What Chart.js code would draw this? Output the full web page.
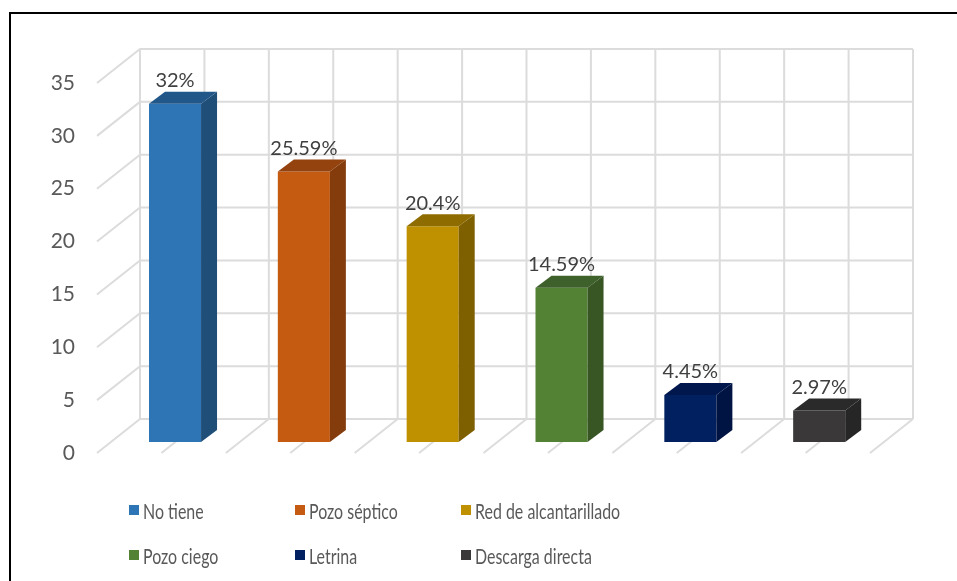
<!DOCTYPE html>
<html>
<head>
<meta charset="utf-8">
<script src="https://cdn.jsdelivr.net/npm/chart.js@4.4.1/dist/chart.umd.min.js"></script>
<style>
body{margin:0;background:#fff}
#wrap{position:relative;width:957px;height:581px;overflow:hidden;font-family:Lato,"DejaVu Sans Condensed",sans-serif}
#frame{position:absolute;left:9px;top:12px;width:1000px;height:1000px;border:2px solid #000;box-sizing:border-box}
#c{position:absolute;left:0;top:0}
.lg{position:absolute;display:flex;align-items:center;font-size:21px;color:#595959;white-space:nowrap;height:24px}
.lg i{display:inline-block;width:10px;height:10px;margin-right:4px}
.lg span{display:inline-block;transform:scaleX(0.76);transform-origin:left center}
</style>
</head>
<body>
<div id="wrap">
  <div id="frame"></div>
  <canvas id="c" width="957" height="581"></canvas>
  <div id="legend"></div>
</div>
<script>
// datos
const categories=["No tiene","Pozo séptico","Red de alcantarillado","Pozo ciego","Letrina","Descarga directa"];
const values=[32,25.59,20.4,14.59,4.45,2.97];
const yTicks=[0,5,10,15,20,25,30,35];
const frontColors=["#2E75B6","#C55A11","#BF9000","#548235","#002060","#3A3838"];
const sideColors=["#1F4E79","#843C0C","#7F6000","#375623","#001444","#262626"];
const topColors=["#22578A","#94430F","#8F6C00","#3E602A","#00174E","#2B2A2A"];

const FONT='Lato,"DejaVu Sans Condensed",sans-serif';
// perspectiva (oblicua)
const WALL={x:43,y:-34};   // fondo de la pared
const BOFF={x:13.6,y:-11}; // cara frontal de las barras
const BDEP={x:16,y:-12};   // profundidad de barra
const GRID="#dcdcdc";

// legend (3 columnas fijas)
const lg=document.getElementById("legend");
categories.forEach((c,i)=>{
  const d=document.createElement("div");d.className="lg";
  d.style.left=(129+(i%3)*166)+"px";d.style.top=(Math.floor(i/3)*45+498)+"px";
  d.innerHTML=`<i style="background:${frontColors[i]}"></i><span>${c}</span>`;
  lg.appendChild(d);
});

const box3d={
  id:"box3d",
  beforeDatasetsDraw(chart){
    const ctx=chart.ctx,xs=chart.scales.x,ys=chart.scales.y;
    const half=(xs.getPixelForValue(1)-xs.getPixelForValue(0))/2;
    const xl=xs.getPixelForValue(0)-half,nCols=categories.length*2;
    const y0=ys.getPixelForValue(0),yTop=ys.getPixelForValue(yTicks[yTicks.length-1]);
    ctx.save();ctx.strokeStyle=GRID;ctx.lineWidth=2;
    ctx.beginPath();
    // pared de fondo: lineas horizontales + lado izquierdo
    yTicks.forEach(v=>{
      const y=ys.getPixelForValue(v);
      ctx.moveTo(xl,y);ctx.lineTo(xl+WALL.x,y+WALL.y);
      ctx.lineTo(xl+nCols*half+WALL.x,y+WALL.y);
    });
    // verticales del fondo + diagonales del piso
    for(let k=0;k<=nCols;k++){
      const x=xl+k*half;
      ctx.moveTo(x+WALL.x,y0+WALL.y);ctx.lineTo(x+WALL.x,yTop+WALL.y);
      ctx.moveTo(x,y0);ctx.lineTo(x+WALL.x,y0+WALL.y);
    }
    ctx.stroke();ctx.restore();
    ctx.save();ctx.translate(BOFF.x,BOFF.y);
  },
  afterDatasetsDraw(chart){
    const ctx=chart.ctx,meta=chart.getDatasetMeta(0);
    meta.data.forEach((bar,i)=>{
      const {x,y,base,width}=bar.getProps(["x","y","base","width"],true);
      const r=x+width/2,l=x-width/2;
      ctx.fillStyle=sideColors[i];ctx.beginPath();
      ctx.moveTo(r,y);ctx.lineTo(r+BDEP.x,y+BDEP.y);ctx.lineTo(r+BDEP.x,base+BDEP.y);ctx.lineTo(r,base);ctx.closePath();ctx.fill();
      ctx.fillStyle=topColors[i];ctx.beginPath();
      ctx.moveTo(l,y);ctx.lineTo(l+BDEP.x,y+BDEP.y);ctx.lineTo(r+BDEP.x,y+BDEP.y);ctx.lineTo(r,y);ctx.closePath();ctx.fill();
      ctx.fillStyle="#404040";ctx.font="20px "+FONT;
      ctx.textAlign="center";ctx.textBaseline="middle";
      ctx.fillText(values[i]+"%",x,y-23);
    });
    ctx.restore();
  }
};

new Chart(document.getElementById("c"),{
  type:"bar",
  data:{labels:categories,datasets:[{data:values,backgroundColor:frontColors,borderWidth:0,
    categoryPercentage:1,barPercentage:0.404,clip:false}]},
  options:{responsive:false,animation:false,
    layout:{padding:{top:83,right:87,bottom:128,left:0}},
    plugins:{legend:{display:false},tooltip:{enabled:false}},
    scales:{
      x:{display:false},
      y:{min:0,max:35,afterFit:s=>{s.width=97},
        grid:{display:false,drawTicks:false,tickLength:0},border:{display:false},
        ticks:{stepSize:5,padding:22,color:"#595959",font:{family:FONT,size:21}}}
    }},
  plugins:[box3d]
});
</script>
</body>
</html>
